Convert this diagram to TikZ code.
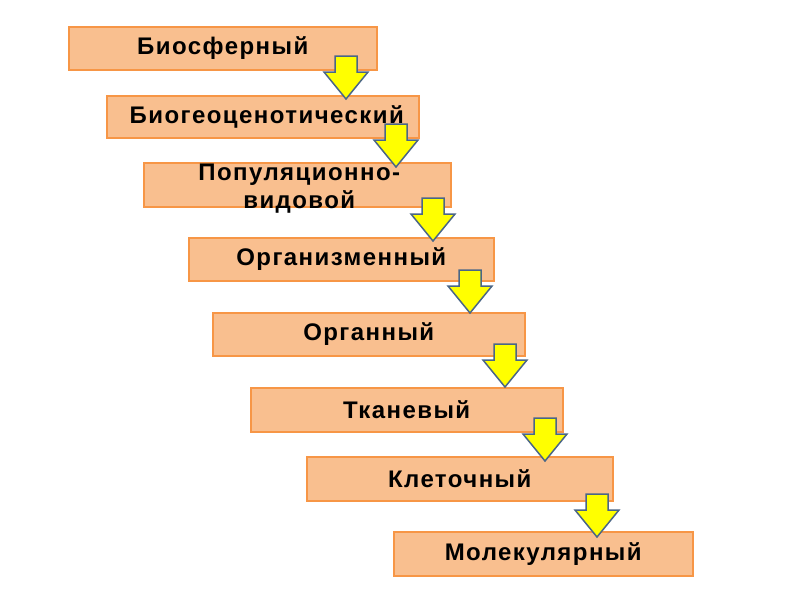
\documentclass[tikz,border=0pt]{standalone}
\usepackage{fontspec}
\setmainfont{Liberation Sans}
\newfontfamily\lvfont{Liberation Sans}[LetterSpace=6]
\definecolor{boxfill}{HTML}{F9BF8F}
\definecolor{boxline}{HTML}{F79646}
\definecolor{arrline}{HTML}{4A6686}
\definecolor{arrfill}{HTML}{FFFF00}
\tikzset{
  lvbox/.style={draw=boxline, fill=boxfill, line width=1.5pt, inner sep=0pt, anchor=north west},
  lvtext/.style={font=\lvfont\fontsize{24}{28}\selectfont\bfseries, text=black, align=center, inner sep=0pt},
  yarr/.pic={\draw[draw=arrline, fill=arrfill, line width=1.5pt, line join=miter]
     (-11,-43) -- (11,-43) -- (11,-27) -- (22,-27) -- (0,0) -- (-22,-27) -- (-11,-27) -- cycle;}
}
\begin{document}
\begin{tikzpicture}[x=1pt,y=-1pt]
\useasboundingbox (0,0) rectangle (800,600);
\fill[white] (0,0) rectangle (800,600);
\node[lvbox, minimum width=308pt, minimum height=43pt] (b1) at (68,26) {};
\node[lvbox, minimum width=312pt, minimum height=42pt] (b2) at (106,95) {};
\node[lvbox, minimum width=307pt, minimum height=44pt] (b3) at (143,162) {};
\node[lvbox, minimum width=305pt, minimum height=43pt] (b4) at (188,237) {};
\node[lvbox, minimum width=312pt, minimum height=43pt] (b5) at (212,312) {};
\node[lvbox, minimum width=312pt, minimum height=44pt] (b6) at (250,387) {};
\node[lvbox, minimum width=306pt, minimum height=44pt] (b7) at (306,456) {};
\node[lvbox, minimum width=299pt, minimum height=44pt] (b8) at (393,531) {};
\node[lvtext] (t1) at (b1.center) {Биосферный};
\node[lvtext] (t2) at ([xshift=4pt]b2.center) {Биогеоценотический};
\node[lvtext] (t3) at ([xshift=2pt,yshift=-4pt]b3.center) {Популяционно-\\видовой};
\node[lvtext] (t4) at (b4.center) {Организменный};
\node[lvtext] (t5) at (b5.center) {Органный};
\node[lvtext] (t6) at (b6.center) {Тканевый};
\node[lvtext] (t7) at (b7.center) {Клеточный};
\node[lvtext] (t8) at (b8.center) {Молекулярный};
\pic (a1) at (346,99) {yarr};
\pic (a2) at (396,167) {yarr};
\pic (a3) at (433,241) {yarr};
\pic (a4) at (470,313) {yarr};
\pic (a5) at (505,387) {yarr};
\pic (a6) at (545,461) {yarr};
\pic (a7) at (597,537) {yarr};
\end{tikzpicture}
\end{document}
